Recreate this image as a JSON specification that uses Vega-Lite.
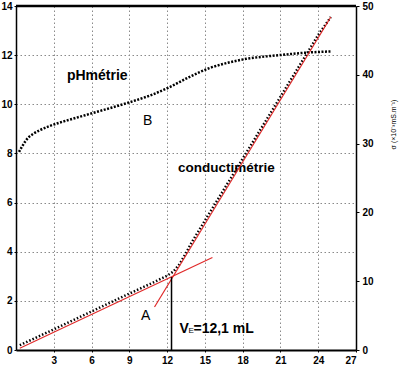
{
  "$schema": "https://vega.github.io/schema/vega-lite/v6.json",
  "width": 340,
  "height": 344,
  "autosize": "none",
  "padding": {"left": 16, "top": 6, "right": 52, "bottom": 23},
  "background": "white",
  "config": {
    "view": {"stroke": null},
    "font": "Liberation Sans",
    "axis": {
      "labelFont": "Liberation Sans",
      "labelFontWeight": "bold",
      "labelFontSize": 10,
      "labelColor": "black",
      "domainColor": "black",
      "domainWidth": 1.5,
      "tickColor": "black",
      "tickSize": 2,
      "labelPadding": 2,
      "gridColor": "#8a8a8a",
      "gridDash": [1.5, 2.5],
      "gridWidth": 1
    }
  },
  "resolve": {"scale": {"y": "independent"}},
  "layer": [
    {
      "layer": [
        {
          "data": {"values": [{"x0": 0, "x1": 27, "pH": 14}]},
          "mark": {"type": "rule", "color": "black", "strokeWidth": 2.5},
          "encoding": {
            "x": {"field": "x0", "type": "quantitative", "scale": {"domain": [0, 27], "nice": false},
              "axis": {"orient": "bottom", "values": [3, 6, 9, 12, 15, 18, 21, 24, 27], "title": null, "grid": true, "domainWidth": 2, "labelPadding": 3}},
            "x2": {"field": "x1"},
            "y": {"field": "pH", "type": "quantitative", "scale": {"domain": [0, 14], "nice": false},
              "axis": {"orient": "left", "values": [0, 2, 4, 6, 8, 10, 12, 14], "title": null, "grid": true}}
          }
        },
        {
          "data": {"values": [
            {"v": 0.24, "pH": 8.06}, {"v": 0.55, "pH": 8.34}, {"v": 0.95, "pH": 8.63}, {"v": 1.35, "pH": 8.79},
            {"v": 1.9, "pH": 8.95}, {"v": 2.7, "pH": 9.12}, {"v": 3.5, "pH": 9.26}, {"v": 4.3, "pH": 9.38},
            {"v": 6.0, "pH": 9.63}, {"v": 7.5, "pH": 9.85}, {"v": 9.0, "pH": 10.08}, {"v": 10.6, "pH": 10.35},
            {"v": 12.2, "pH": 10.7}, {"v": 13.8, "pH": 11.12}, {"v": 15.4, "pH": 11.48}, {"v": 16.9, "pH": 11.7},
            {"v": 18.3, "pH": 11.85}, {"v": 19.9, "pH": 11.95}, {"v": 21.5, "pH": 12.03}, {"v": 23.0, "pH": 12.1},
            {"v": 25.0, "pH": 12.15}
          ]},
          "mark": {"type": "line", "interpolate": "monotone", "color": "black", "strokeWidth": 2.5, "strokeDash": [2, 1.5], "strokeCap": "butt"},
          "encoding": {
            "x": {"field": "v", "type": "quantitative"},
            "y": {"field": "pH", "type": "quantitative"}
          }
        },
        {
          "data": {"values": [{"v": 6.45, "pH": 10.99, "label": "pHmétrie"}]},
          "mark": {"type": "text", "fontSize": 14, "fontWeight": "bold", "align": "center", "baseline": "alphabetic", "color": "black"},
          "encoding": {
            "x": {"field": "v", "type": "quantitative"},
            "y": {"field": "pH", "type": "quantitative"},
            "text": {"field": "label"}
          }
        },
        {
          "data": {"values": [{"v": 16.7, "pH": 7.24, "label": "conductimétrie"}]},
          "mark": {"type": "text", "fontSize": 13.5, "fontWeight": "bold", "align": "center", "baseline": "alphabetic", "color": "black"},
          "encoding": {
            "x": {"field": "v", "type": "quantitative"},
            "y": {"field": "pH", "type": "quantitative"},
            "text": {"field": "label"}
          }
        },
        {
          "data": {"values": [{"v": 10.45, "pH": 9.16, "label": "B"}, {"v": 10.3, "pH": 1.22, "label": "A"}]},
          "mark": {"type": "text", "fontSize": 14, "align": "center", "baseline": "alphabetic", "color": "black"},
          "encoding": {
            "x": {"field": "v", "type": "quantitative"},
            "y": {"field": "pH", "type": "quantitative"},
            "text": {"field": "label"}
          }
        },
        {
          "data": {"values": [{"v": 12.98, "pH": 0.69, "label": "V"}]},
          "mark": {"type": "text", "fontSize": 14, "fontWeight": "bold", "align": "left", "baseline": "alphabetic", "color": "black"},
          "encoding": {
            "x": {"field": "v", "type": "quantitative"},
            "y": {"field": "pH", "type": "quantitative"},
            "text": {"field": "label"}
          }
        },
        {
          "data": {"values": [{"v": 12.98, "pH": 0.69, "label": "E"}]},
          "mark": {"type": "text", "fontSize": 8, "align": "left", "baseline": "alphabetic", "dx": 9, "dy": 0, "color": "black"},
          "encoding": {
            "x": {"field": "v", "type": "quantitative"},
            "y": {"field": "pH", "type": "quantitative"},
            "text": {"field": "label"}
          }
        },
        {
          "data": {"values": [{"v": 12.98, "pH": 0.69, "label": "=12,1 mL"}]},
          "mark": {"type": "text", "fontSize": 14, "fontWeight": "bold", "align": "left", "baseline": "alphabetic", "dx": 14, "color": "black"},
          "encoding": {
            "x": {"field": "v", "type": "quantitative"},
            "y": {"field": "pH", "type": "quantitative"},
            "text": {"field": "label"}
          }
        }
      ]
    },
    {
      "layer": [
        {
          "data": {"values": [
            {"v": 0.3, "s": 0.7}, {"v": 3, "s": 3.0}, {"v": 6, "s": 5.6}, {"v": 9, "s": 8.2}, {"v": 11, "s": 9.9},
            {"v": 12, "s": 10.8}, {"v": 12.5, "s": 11.4}, {"v": 13, "s": 12.5}, {"v": 13.5, "s": 14.1},
            {"v": 14, "s": 15.8}, {"v": 16, "s": 21.8}, {"v": 18, "s": 27.8}, {"v": 20, "s": 33.8},
            {"v": 22, "s": 39.8}, {"v": 24, "s": 45.8}, {"v": 25, "s": 48.4}
          ]},
          "mark": {"type": "line", "color": "black", "strokeWidth": 2.5, "strokeDash": [1.5, 2], "strokeCap": "butt"},
          "encoding": {
            "x": {"field": "v", "type": "quantitative"},
            "y": {"field": "s", "type": "quantitative", "scale": {"domain": [0, 50], "nice": false},
              "axis": {"orient": "right", "values": [0, 5, 10, 15, 20, 25, 30, 35, 40, 45, 50], "grid": false, "tickSize": 3, "labelPadding": 3,
                "title": "σ (×10⁻³mS.m⁻¹)", "titleFontSize": 7, "titleFontWeight": "normal", "titleColor": "black",
                "titleAngle": 270, "titleX": 37, "titleY": 118, "titleAlign": "center", "titleBaseline": "middle"}}
          }
        },
        {
          "data": {"values": [
            {"seg": "t1", "v": 0.3, "s": 0.25}, {"seg": "t1", "v": 15.6, "s": 13.45},
            {"seg": "t2", "v": 11.0, "s": 6.25}, {"seg": "t2", "v": 25.0, "s": 48.4}
          ]},
          "mark": {"type": "line", "color": "#e02a2a", "strokeWidth": 1.2},
          "encoding": {
            "x": {"field": "v", "type": "quantitative"},
            "y": {"field": "s", "type": "quantitative"},
            "detail": {"field": "seg"}
          }
        },
        {
          "data": {"values": [{"v": 12.35, "s0": 0, "s1": 10.6}]},
          "mark": {"type": "rule", "color": "black", "strokeWidth": 1.5},
          "encoding": {
            "x": {"field": "v", "type": "quantitative"},
            "y": {"field": "s0", "type": "quantitative"},
            "y2": {"field": "s1"}
          }
        }
      ]
    }
  ]
}
